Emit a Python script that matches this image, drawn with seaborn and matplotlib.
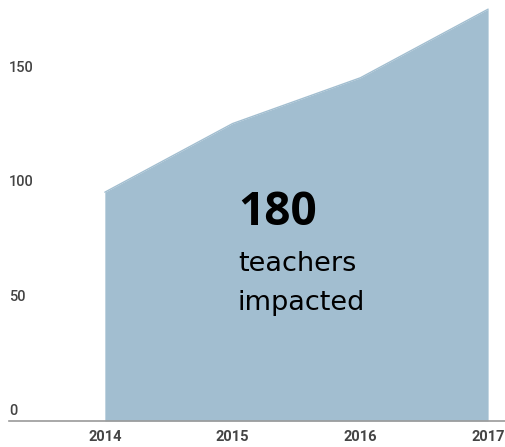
import matplotlib
matplotlib.use("Agg")
import matplotlib.pyplot as plt
import matplotlib.transforms as mtrans
import seaborn as sns
import pandas as pd

# data
years = [2014, 2015, 2016, 2017]
teachers = [100, 130, 150, 180]
y_ticks = [0, 50, 100, 150]

df = pd.DataFrame({"year": years, "teachers": teachers})

sns.set_style("white")
plt.rcParams["font.family"] = ["Roboto", "DejaVu Sans"]

W, H = 506, 447
fig = plt.figure(figsize=(W / 100, H / 100), dpi=100)
ax = fig.add_axes([9 / W, 26 / H, 1 - 9 / W, 1 - 26 / H])

fill_color = "#a2bed0"
sns.lineplot(data=df, x="year", y="teachers", ax=ax, color=fill_color, linewidth=1)
ax.fill_between(df["year"], df["teachers"], color=fill_color, linewidth=0)

ax.set_xlim(2013.25, 2017.14)
ax.set_ylim(0, 184)
ax.set_xlabel("")
ax.set_ylabel("")

for s in ["top", "right", "left"]:
    ax.spines[s].set_visible(False)
ax.spines["bottom"].set_color("#9a9a9a")
ax.spines["bottom"].set_linewidth(1.2)

ax.set_xticks(years)
ax.set_xticklabels([str(y) for y in years])
ax.set_yticks(y_ticks)
ax.set_yticklabels([str(v) for v in y_ticks])
ax.tick_params(axis="x", length=0, pad=6.5, labelsize=10.5, labelcolor="#444444")
ax.tick_params(axis="y", length=0, pad=0, labelsize=10.5, labelcolor="#444444")
shift = mtrans.ScaledTranslation(0, 0.03, fig.dpi_scale_trans)
for lab in ax.get_yticklabels():
    lab.set_horizontalalignment("left")
    lab.set_verticalalignment("bottom")
    lab.set_transform(lab.get_transform() + shift)
    lab.set_fontweight("medium")
for lab in ax.get_xticklabels():
    lab.set_fontweight("bold")

# callout text (positions in pixels from the top-left)
callout = [("180", 225, 33, "bold", "Open Sans"),
           ("teachers", 271, 19.5, "normal", "DejaVu Sans"),
           ("impacted", 310, 19.5, "normal", "DejaVu Sans")]
for txt, base, size, weight, fam in callout:
    fig.text(238 / W, 1 - base / H, txt, fontsize=size, fontweight=weight,
             family=[fam, "DejaVu Sans"], color="black", va="baseline")

fig.savefig("out.png", dpi=100)
